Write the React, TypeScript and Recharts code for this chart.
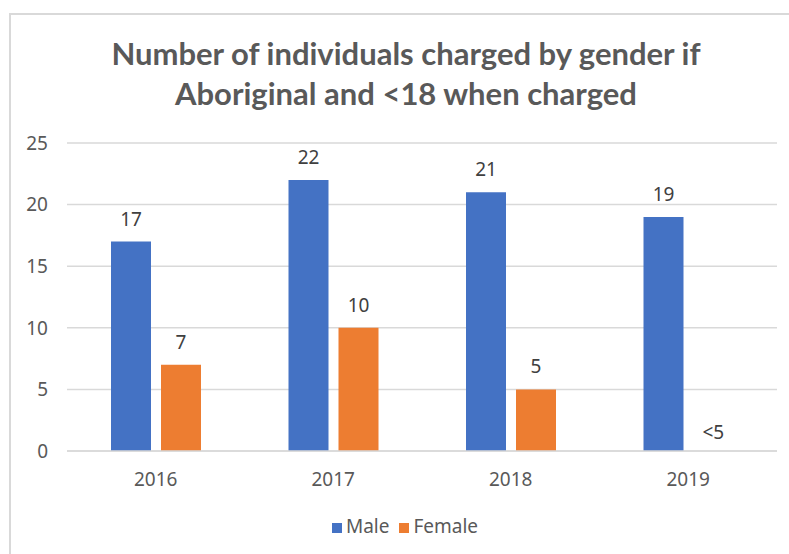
import { BarChart, Bar, XAxis, YAxis, CartesianGrid, Legend, LabelList, ReferenceDot } from "recharts"

const years = ["2016", "2017", "2018", "2019"]
const maleCounts = [17, 22, 21, 19]
const femaleCounts = [7, 10, 5, 0]
const femaleLabels = ["7", "10", "5", "<5"]
const seriesNames = ["Male", "Female"]
const yTicks = [0, 5, 10, 15, 20, 25]

const chartData = years.map((year, i) => ({
  year,
  male: maleCounts[i],
  female: femaleCounts[i],
  femaleLabel: femaleLabels[i],
}))

// female bars with no height still need their text label
const suppressed = chartData.filter((d) => d.female === 0)

const textColor = "#595959"
const labelColor = "#404040"
const font = "'Noto Sans', sans-serif"

export default function App() {
  return (
    <div style={{ position: "fixed", left: 0, top: 0, width: 789, height: 554, overflow: "hidden", background: "#fff" }}>
      <div
        style={{
          position: "absolute",
          left: 9,
          top: 13,
          width: 800,
          height: 600,
          border: "2px solid #d9d9d9",
        }}
      />
      <div
        style={{
          position: "absolute",
          left: 0,
          top: 33,
          width: 812,
          textAlign: "center",
          fontFamily: "Lato, sans-serif",
          fontWeight: 700,
          fontSize: 31,
          lineHeight: "40px",
          color: textColor,
        }}
      >
        Number of individuals charged by gender if
        <br />
        Aboriginal and &lt;18 when charged
      </div>
      <div style={{ position: "absolute", left: 0, top: 0 }}>
        <BarChart
          width={789}
          height={554}
          data={chartData}
          margin={{ top: 143, right: 12, left: 27, bottom: 15 }}
          barSize={40}
          barGap={10}
          style={{ fontFamily: font }}
        >
          <CartesianGrid vertical={false} stroke="#d9d9d9" strokeWidth={1.5} />
          <XAxis
            dataKey="year"
            height={62}
            tickLine={false}
            tickSize={0}
            tickMargin={22}
            axisLine={{ stroke: "#d9d9d9", strokeWidth: 1.5 }}
            tick={{ fill: textColor, fontSize: 19 }}
          />
          <YAxis
            width={40}
            domain={[0, 25]}
            ticks={yTicks}
            tickLine={false}
            axisLine={false}
            tickSize={0}
            tickMargin={19}
            tick={{ fill: textColor, fontSize: 19 }}
          />
          <Legend
            verticalAlign="bottom"
            iconType="square"
            iconSize={10}
            itemSorter={(item: any) => seriesNames.indexOf(item.value)}
            wrapperStyle={{ fontSize: 19, color: textColor, left: 35 }}
            formatter={(value) => <span style={{ color: textColor }}>{value}</span>}
          />
          <Bar dataKey="male" name="Male" fill="#4472c4" isAnimationActive={false}>
            <LabelList dataKey="male" position="top" offset={16} fill={labelColor} fontSize={19} />
          </Bar>
          <Bar dataKey="female" name="Female" fill="#ed7d31" isAnimationActive={false}>
            <LabelList dataKey="femaleLabel" position="top" offset={16} fill={labelColor} fontSize={19} />
          </Bar>
          {suppressed.map((d) => (
            <ReferenceDot
              key={d.year}
              x={d.year}
              y={d.female}
              r={0}
              fill="none"
              stroke="none"
              label={{ value: d.femaleLabel, position: "top", offset: 12, dx: 25, fill: labelColor, fontSize: 19 }}
            />
          ))}
        </BarChart>
      </div>
    </div>
  )
}
